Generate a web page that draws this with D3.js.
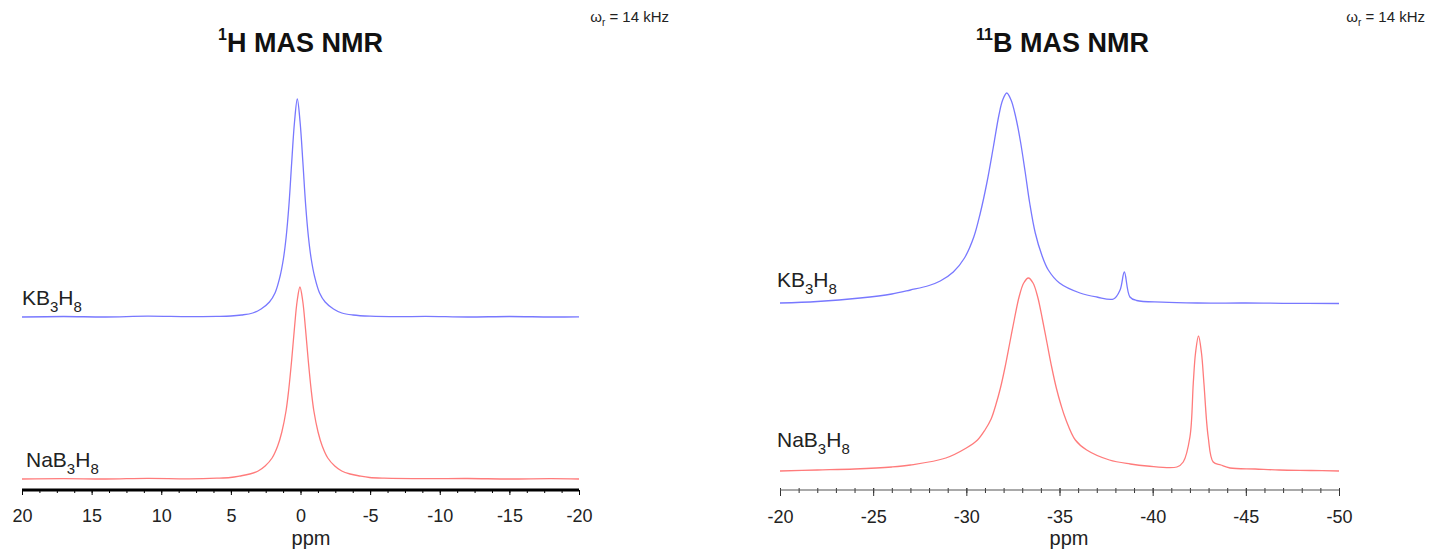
<!DOCTYPE html>
<html>
<head>
<meta charset="utf-8">
<script src="https://cdn.jsdelivr.net/npm/d3@7"></script>
<style>
  body { margin: 0; background: #fff; }
  svg { font-family: "Liberation Sans", Arial, sans-serif; }
</style>
</head>
<body>
<div id="chart"></div>
<script>
// Spectra: [ppm, intensity above own baseline]
var kb3h8H = [[20, 0], [17, 0.5], [14, 0], [11, 0.8], [8, 0.3], [6, 0.6], [5, 1], [4.23, 2], [3.43, 4], [2.83, 8],
  [2.23, 15], [1.83, 24], [1.48, 40], [1.23, 58], [1.03, 80], [0.83, 112], [0.63, 155], [0.43, 195], [0.23, 218],
  [0.03, 195], [-0.17, 155], [-0.37, 112], [-0.57, 80], [-0.77, 58], [-1.02, 40], [-1.37, 24], [-1.77, 15],
  [-2.37, 8], [-2.97, 4], [-3.77, 2], [-5, 0.8], [-7, 0.3], [-9, 0.6], [-12, 0], [-15, 0.5], [-18, 0], [-20, 0.2]];

var nab3h8H = [[20, 0], [17, 0.4], [14, 0], [11, 0.6], [8, 0.2], [6, 0.8], [5.04, 1.5], [4.34, 3], [3.64, 5],
  [3.04, 8], [2.54, 13], [2.04, 21], [1.64, 33], [1.34, 47], [1.04, 68], [0.84, 90], [0.64, 118], [0.44, 150],
  [0.24, 178], [0.04, 192], [-0.16, 178], [-0.36, 150], [-0.56, 118], [-0.76, 90], [-0.96, 68], [-1.26, 47],
  [-1.56, 33], [-1.96, 21], [-2.46, 13], [-2.96, 8], [-3.56, 5], [-4.26, 3], [-4.96, 1.5], [-6, 0.8], [-9, 0.3],
  [-12, 0.5], [-15, 0], [-18, 0.4], [-20, 0]];

var kb3h8B = [[-20, 0], [-22, 1.5], [-24.3, 5], [-26, 9], [-27, 13], [-28, 17.5], [-28.6, 22], [-29.3, 31],
  [-29.9, 45], [-30.4, 66], [-30.75, 90], [-31.1, 120], [-31.45, 156], [-31.75, 188], [-31.95, 203], [-32.17, 210],
  [-32.4, 203], [-32.65, 186], [-32.9, 162], [-33.15, 132], [-33.4, 100], [-33.7, 70], [-34.05, 48], [-34.4, 33],
  [-35, 20], [-36.1, 10], [-37, 6], [-37.9, 4], [-38.25, 13], [-38.48, 31], [-38.78, 6], [-39.14, 2.5],
  [-40.5, 0.8], [-42.4, 0], [-45, 0], [-47, -0.3], [-50, -0.5]];

var nab3h8B = [[-20, 0], [-22, 1], [-24, 2], [-26, 4], [-27, 6], [-28.9, 13], [-30, 23], [-30.6, 31], [-31, 41],
  [-31.33, 52], [-31.58, 66], [-31.83, 83], [-32.08, 104], [-32.33, 128], [-32.58, 152], [-32.83, 174],
  [-33.08, 188], [-33.33, 193], [-33.58, 188], [-33.83, 174], [-34.08, 152], [-34.33, 128], [-34.58, 104],
  [-34.83, 83], [-35.08, 66], [-35.33, 52], [-35.85, 31], [-36.46, 21], [-37.68, 11], [-38.8, 7], [-39.7, 5],
  [-41.3, 4], [-41.64, 9], [-42, 34], [-42.18, 88], [-42.3, 118], [-42.46, 135], [-42.62, 118], [-42.75, 88],
  [-42.98, 34], [-43.25, 9], [-43.66, 6], [-44.15, 3], [-45.5, 2], [-46.8, 1], [-48.5, 0.5], [-50, 0]];

// vertical stacking offsets (same intensity units)
var offsetsH = [173, 11];   // KB3H8, NaB3H8
var offsetsB = [187, 19];

var ticksH = [20, 15, 10, 5, 0, -5, -10, -15, -20];
var ticksB = [-20, -25, -30, -35, -40, -45, -50];

var width = 1430, height = 552;
var axisY = 490;

var svg = d3.select("#chart").append("svg")
    .attr("width", width)
    .attr("height", height);

var y = d3.scaleLinear().domain([0, 400]).range([axisY, 90]);

var xH = d3.scaleLinear().domain([20, -20]).range([22, 579]);
var xB = d3.scaleLinear().domain([-20, -50]).range([780, 1339]);

function drawSpectrum(x, data, offset, color) {
  var line = d3.line()
      .x(function(d) { return x(d[0]); })
      .y(function(d) { return y(d[1] + offset); })
      .curve(d3.curveCatmullRom.alpha(0.5));
  svg.append("path")
      .datum(data)
      .attr("d", line)
      .attr("fill", "none")
      .attr("stroke", color)
      .attr("stroke-width", 1.3);
}

var blue = "#7878ff", red = "#ff7b7b";
drawSpectrum(xH, kb3h8H, offsetsH[0], blue);
drawSpectrum(xH, nab3h8H, offsetsH[1], red);
drawSpectrum(xB, kb3h8B, offsetsB[0], blue);
drawSpectrum(xB, nab3h8B, offsetsB[1], red);

// plain hyphen for negatives, like the original
var fmt = function(d) { return String(d); };

// Left axis: heavy black line, minor ticks each 1.25 ppm
var axH = svg.append("g").attr("transform", "translate(0," + axisY + ")");
axH.append("g")
    .call(d3.axisBottom(xH).tickValues(d3.range(20, -20.01, -1.25)).tickSize(3).tickFormat(""))
    .call(function(g) { g.select(".domain").remove(); });
axH.append("g")
    .call(d3.axisBottom(xH).tickValues(ticksH).tickSize(5).tickPadding(14).tickFormat(fmt))
    .call(function(g) {
      g.select(".domain").remove();
      g.selectAll("text").attr("font-size", 18).attr("fill", "#222").attr("font-family", null);
    });
axH.append("line")
    .attr("x1", xH(20)).attr("x2", xH(-20))
    .attr("stroke", "#000").attr("stroke-width", 3);

// Right axis: thin line, minor ticks each 1 ppm
var axB = svg.append("g").attr("transform", "translate(0," + axisY + ")");
axB.append("g")
    .call(d3.axisBottom(xB).tickValues(d3.range(-20, -50.01, -1)).tickSize(3).tickFormat(""))
    .call(function(g) { g.select(".domain").remove(); g.selectAll("line").attr("y1", -2).attr("stroke", "#333"); });
axB.append("g")
    .call(d3.axisBottom(xB).tickValues(ticksB).tickSize(6).tickPadding(14).tickFormat(fmt))
    .call(function(g) {
      g.select(".domain").remove();
      g.selectAll("line").attr("y1", -2).attr("stroke", "#333");
      g.selectAll("text").attr("font-size", 18).attr("fill", "#222").attr("font-family", null);
    });
axB.append("line")
    .attr("x1", xB(-20)).attr("x2", xB(-50))
    .attr("stroke", "#555").attr("stroke-width", 1);

// axis titles
svg.append("text").attr("x", 311).attr("y", 545).attr("text-anchor", "middle")
    .attr("font-size", 20).attr("fill", "#222").text("ppm");
svg.append("text").attr("x", 1069).attr("y", 545).attr("text-anchor", "middle")
    .attr("font-size", 20).attr("fill", "#222").text("ppm");

// chart titles with superscript
function title(x, sup, rest) {
  var t = svg.append("text").attr("x", x).attr("y", 52).attr("font-weight", "bold").attr("fill", "#111");
  t.append("tspan").attr("font-size", 16).attr("dy", -12).text(sup);
  t.append("tspan").attr("font-size", 27).attr("dy", 12).text(rest);
}
title(218, "1", "H MAS NMR");
title(976, "11", "B MAS NMR");

// spinning rate notes
function rate(x) {
  var t = svg.append("text").attr("x", x).attr("y", 22).attr("text-anchor", "end")
      .attr("font-size", 15).attr("fill", "#222");
  t.append("tspan").text("\u03c9");
  t.append("tspan").attr("font-size", 10).attr("dy", 4).text("r");
  t.append("tspan").attr("dy", -4).text(" = 14 kHz");
}
rate(669);
rate(1425);

// sample labels with subscripts
function formula(x, yb, parts) {
  var t = svg.append("text").attr("x", x).attr("y", yb).attr("font-size", 21).attr("fill", "#222");
  parts.forEach(function(p, i) {
    var sub = i % 2 === 1;
    t.append("tspan")
        .attr("font-size", sub ? 15 : 21)
        .attr("dy", i === 0 ? 0 : (sub ? 7 : -7))
        .text(p);
  });
}
formula(22, 305, ["KB", "3", "H", "8"]);
formula(26, 467, ["NaB", "3", "H", "8"]);
formula(777, 287, ["KB", "3", "H", "8"]);
formula(777, 447, ["NaB", "3", "H", "8"]);
</script>
</body>
</html>
